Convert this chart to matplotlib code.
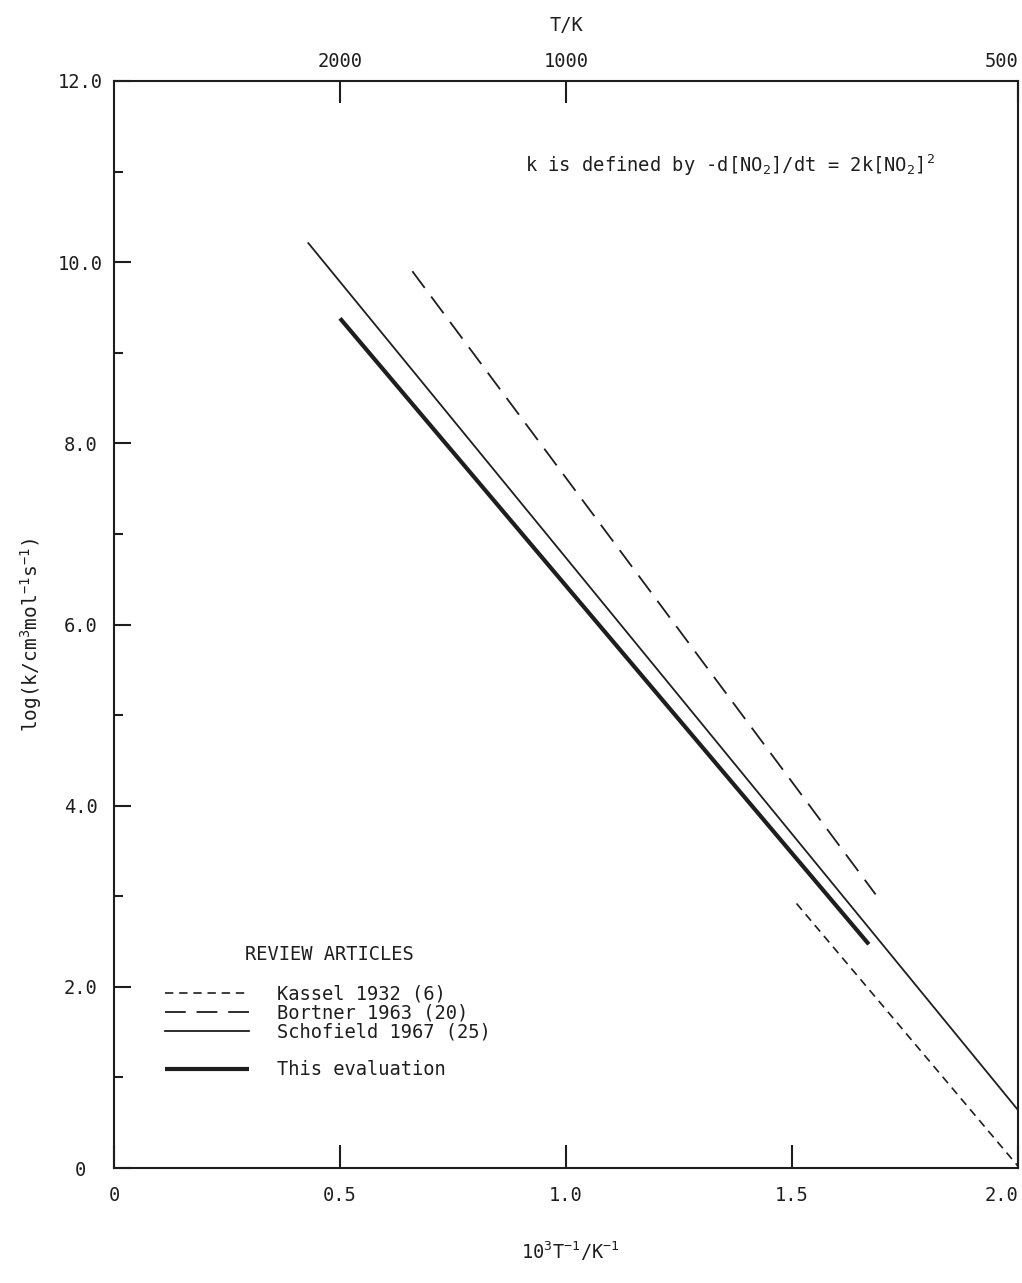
import matplotlib
matplotlib.use('Agg')
import matplotlib.pyplot as plt
from matplotlib.lines import Line2D

plt.rcParams['font.family'] = ['DejaVu Sans Mono']
plt.rcParams['mathtext.fontset'] = 'custom'
plt.rcParams['mathtext.rm'] = 'DejaVu Sans Mono'
plt.rcParams['mathtext.it'] = 'DejaVu Sans Mono'
plt.rcParams['mathtext.bf'] = 'DejaVu Sans Mono'
plt.rcParams['font.size'] = 13.5

ink = '#1e1e1e'

# data (x = 10^3/T, y = log k)
kassel_x = [1.51, 2.0]
kassel_y = [2.92, 0.02]
bortner_x = [0.66, 1.685]
bortner_y = [9.90, 3.02]
schofield_x = [0.43, 2.0]
schofield_y = [10.21, 0.64]
eval_x = [0.50, 1.67]
eval_y = [9.38, 2.47]

x_ticks = [0, 0.5, 1.0, 1.5, 2.0]
x_labels = ['0', '0.5', '1.0', '1.5', '2.0']
y_ticks = [0, 2, 4, 6, 8, 10, 12]
y_labels = ['0', '2.0', '4.0', '6.0', '8.0', '10.0', '12.0']
top_T = [2000, 1000, 500]

fig = plt.figure(figsize=(10.22, 12.83), dpi=100)
ax = fig.add_axes([114 / 1022, 1 - 1168 / 1283, 904 / 1022, 1087 / 1283])

ax.plot(kassel_x, kassel_y, color=ink, lw=1.2, dashes=(5, 3.5), label='Kassel 1932 (6)')
ax.plot(bortner_x, bortner_y, color=ink, lw=1.3, dashes=(11.5, 6), label='Bortner 1963 (20)')
ax.plot(schofield_x, schofield_y, color=ink, lw=1.3, label='Schofield 1967 (25)')
ax.plot(eval_x, eval_y, color=ink, lw=3.0, label='This evaluation', solid_capstyle='butt')

ax.set_xlim(0, 2.0)
ax.set_ylim(0, 12)

for s in ax.spines.values():
    s.set_linewidth(1.5)
    s.set_color(ink)

ax.set_xticks(x_ticks)
ax.set_xticklabels(x_labels)
ax.set_yticks(y_ticks)
ax.set_yticklabels(y_labels)
ax.set_yticks(range(0, 13), minor=True)
ax.tick_params(axis='x', direction='in', length=16.5, width=1.5, pad=13, colors=ink)
ax.tick_params(axis='y', which='major', direction='in', length=12, width=1.5, pad=24, colors=ink)
ax.tick_params(axis='y', which='minor', direction='in', length=6.5, width=1.5, colors=ink)
for lbl in ax.get_yticklabels():
    lbl.set_ha('center')
ax.get_xticklabels()[-1].set_ha('right')

# top axis in temperature
top = ax.twiny()
top.set_xlim(ax.get_xlim())
top.set_xticks([1000 / T for T in top_T])
top.set_xticklabels([str(T) for T in top_T])
top.tick_params(axis='x', direction='in', length=16, width=1.5, pad=7, colors=ink)
top.get_xticklabels()[-1].set_ha('right')
for s in top.spines.values():
    s.set_visible(False)
top.set_xlabel('T/K', labelpad=15, color=ink)

ax.set_ylabel('log(k/cm$^3$mol$^{-1}$s$^{-1}$)', color=ink, fontsize=14)
ax.yaxis.set_label_coords(-0.077, 0.49)
ax.set_xlabel('10$^3$T$^{-1}$/K$^{-1}$', color=ink)
ax.xaxis.set_label_coords(0.505, -0.066)

ax.text(0.4546, 0.9227, 'k is defined by -d[NO$_2$]/dt = 2k[NO$_2$]$^2$',
        transform=ax.transAxes, ha='left', va='center', color=ink)

ax.text(0.145, 0.196, 'REVIEW ARTICLES', transform=ax.transAxes,
        ha='left', va='center', color=ink)

h = ax.get_lines()
spacer = Line2D([], [], color='none')
leg = ax.legend([h[0], h[1], h[2], spacer, h[3]],
                [h[0].get_label(), h[1].get_label(), h[2].get_label(), '', h[3].get_label()],
                loc='upper left', bbox_to_anchor=(0.0564, 0.169), frameon=False,
                borderpad=0, borderaxespad=0, handlelength=4.5, handletextpad=1.5,
                labelspacing=0.0)
for t in leg.get_texts():
    t.set_color(ink)

fig.savefig('out.png', dpi=100)
